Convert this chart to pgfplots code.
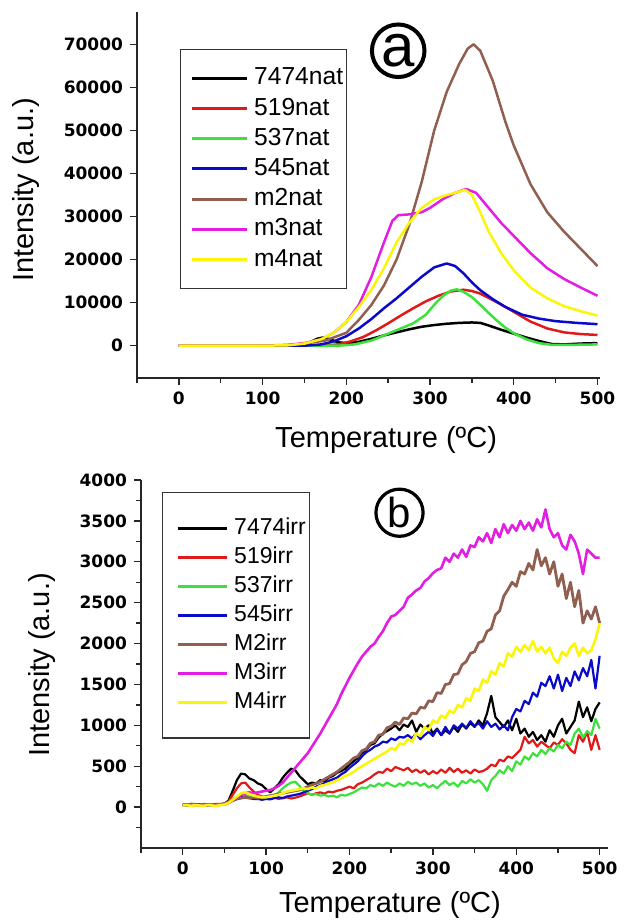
\documentclass[border=0pt]{standalone}
\usepackage{fontspec}
\setmainfont{Liberation Sans}
\newfontfamily\tickfont{DejaVu Sans}
\usepackage{pgfplots}
\pgfplotsset{compat=1.18}
\definecolor{cblack}{RGB}{0,0,0}
\definecolor{cred}{RGB}{225,25,25}
\definecolor{cgreen}{RGB}{60,225,60}
\definecolor{cblue}{RGB}{10,10,200}
\definecolor{cbrown}{RGB}{145,95,80}
\definecolor{cmag}{RGB}{225,30,225}
\definecolor{cyel}{RGB}{250,245,10}
\pgfplotsset{myaxis/.style={
  scale only axis, anchor=south west,
  axis x line*=bottom, axis y line*=left,
  axis line style={line width=0.8pt, black!85},
  tick align=outside,
  tick style={line width=0.7pt, black!85},
  major tick length=3.5pt, minor tick length=2.5pt,
  xtick={0,100,...,500}, minor xtick={-50,50,150,250,350,450},
  ticklabel style={font=\tickfont\bfseries\fontsize{8.5}{10}\selectfont},
  /pgf/number format/assume math mode=true,
  /pgf/number format/1000 sep={},
  scaled ticks=false,
  label style={font=\fontsize{14.5}{16}\selectfont},
  clip=false,
  legend cell align=left,
  every axis plot/.append style={line join=round},
}}
\begin{document}
\begin{tikzpicture}
\path[use as bounding box] (0,0) rectangle (313.5pt,461pt);
% ---------- panel (a) ----------
\begin{axis}[myaxis, at={(68.5pt,272pt)}, width=231.5pt, height=183pt,
  xmin=-50, xmax=503, ymin=-7500, ymax=77500,
  ytick={0,10000,...,70000},
  xlabel={Temperature (ºC)}, ylabel={Intensity (a.u.)},
  xlabel style={at={(axis description cs:0.538,-0.169)}, anchor=center},
  ylabel style={at={(axis description cs:-0.2397,0.514)}, anchor=center},
  legend image code/.code={\path[draw=none] (0pt,0pt) -- (35pt,0pt); \draw[#1, line width=1.5pt] (4.5pt,0pt) -- (32pt,0pt);},
  legend style={at={(0.0929,0.9)}, anchor=north west, draw=black!80, line width=0.6pt,
    font=\fontsize{12.3}{14}\selectfont, inner xsep=1pt, inner ysep=8pt, row sep=2pt,
    nodes={inner sep=0.8pt, text height=9pt, text depth=2.5pt}},
  every axis plot/.append style={line width=1.25pt}]
\addplot[cblack] coordinates {(0,0)(140,0)(155,600)(165,1600)(172,1900)(180,1500)(190,800)(200,600)(215,900)(230,1600)(245,2400)(260,3100)(275,3800)(290,4400)(305,4800)(320,5100)(335,5300)(350,5400)(360,5300)(370,4700)(385,3700)(400,2800)(415,1900)(430,1100)(445,400)(460,300)(480,500)(500,600)};
\addplot[cred] coordinates {(0,0)(170,0)(190,300)(205,1000)(220,2000)(235,3500)(250,5200)(265,7000)(280,8700)(295,10300)(310,11600)(325,12600)(340,13000)(350,12700)(360,12100)(375,10600)(390,9000)(405,7300)(420,5600)(440,4000)(460,3100)(480,2700)(500,2500)};
\addplot[cgreen] coordinates {(0,0)(190,0)(210,300)(230,1200)(250,2800)(265,4000)(280,5200)(295,7200)(305,9500)(315,11500)(325,12800)(332,13100)(340,12500)(350,11300)(360,9500)(370,7600)(380,5800)(390,4200)(400,2900)(415,1500)(430,600)(445,200)(470,200)(500,300)};
\addplot[cblue] coordinates {(0,0)(150,0)(170,300)(185,1000)(200,2200)(215,4000)(230,6200)(245,8700)(260,11000)(275,13500)(290,16000)(305,18200)(320,19100)(330,18500)(340,16800)(350,14700)(360,12900)(375,10800)(390,9000)(410,7200)(430,6300)(450,5700)(475,5300)(500,5000)};
\addplot[cbrown] coordinates {(0,0)(100,0)(130,100)(150,500)(175,1200)(200,3000)(215,6000)(230,9500)(245,14000)(260,20000)(275,28000)(290,38000)(305,50000)(320,59000)(335,65500)(345,69000)(352,70000)(360,68500)(375,61500)(390,52000)(400,46500)(420,37500)(440,31000)(460,26500)(480,22500)(500,18500)};
\addplot[cmag] coordinates {(0,0)(100,0)(130,200)(150,600)(170,1500)(185,3000)(200,5500)(215,9500)(230,16000)(245,24000)(255,29000)(262,30300)(275,30500)(290,31000)(300,32000)(315,34000)(330,35500)(343,36400)(355,35500)(370,32000)(385,28500)(400,25500)(420,21500)(440,18000)(460,15500)(480,13500)(500,11600)};
\addplot[cyel] coordinates {(0,0)(100,0)(130,100)(150,500)(170,1500)(185,3000)(200,5500)(215,9000)(230,13000)(245,18000)(260,24000)(275,28500)(290,32000)(305,34000)(320,35000)(335,35800)(342,36200)(350,35000)(360,31000)(370,26500)(385,21500)(400,17500)(420,13500)(440,11000)(460,9200)(480,8000)(500,7000)};
\legend{7474nat,519nat,537nat,545nat,m2nat,m3nat,m4nat}
\node[draw, circle, line width=2pt, inner sep=1pt, minimum size=25pt, font=\fontsize{30}{30}\selectfont] at (axis cs:262,68500) {a};
\end{axis}
% ---------- panel (b) ----------
\begin{axis}[myaxis, at={(70.5pt,37pt)}, width=233.5pt, height=184pt,
  xmin=-50, xmax=510, ymin=-500, ymax=4000,
  ytick={0,500,...,4000}, minor ytick={-250,250,750,1250,1750,2250,2750,3250,3750},
  xlabel={Temperature (ºC)}, ylabel={Intensity (a.u.)},
  xlabel style={at={(axis description cs:0.533,-0.155)}, anchor=center},
  ylabel style={at={(axis description cs:-0.212,0.497)}, anchor=center},
  legend image code/.code={\path[draw=none] (0pt,0pt) -- (34pt,0pt); \draw[#1, line width=1.5pt] (6.5pt,0pt) -- (31pt,0pt);},
  legend style={at={(0.045,0.967)}, anchor=north west, draw=black!80, line width=0.6pt,
    font=\fontsize{11.5}{13}\selectfont, inner xsep=1pt, inner ysep=11.5pt, row sep=1.9pt,
    nodes={inner sep=0.8pt, text height=8.5pt, text depth=2.5pt}},
  every axis plot/.append style={line width=1.1pt}]
\addplot[cblack] coordinates {(0,30)(5,20)(10,40)(15,25)(20,35)(25,20)(30,30)(35,25)(40,35)(45,30)(50,40)(55,80)(60,200)(65,330)(70,410)(75,400)(80,350)(85,330)(90,290)(95,270)(100,220)(105,180)(110,230)(115,280)(120,360)(125,420)(130,470)(135,450)(140,380)(145,330)(150,280)(155,300)(160,290)(165,330)(170,310)(175,360)(180,380)(185,420)(190,440)(195,470)(200,520)(205,560)(210,600)(215,660)(220,700)(225,760)(230,780)(235,850)(240,900)(245,930)(250,960)(255,1000)(260,940)(265,1010)(270,980)(275,1060)(280,920)(285,1010)(290,960)(295,1000)(300,900)(305,960)(310,880)(315,940)(320,900)(325,980)(330,920)(335,1010)(340,960)(345,1030)(350,980)(355,1060)(360,1000)(365,1150)(370,1360)(375,1100)(380,1040)(385,980)(390,1060)(395,940)(400,1080)(405,900)(410,960)(415,860)(420,920)(425,820)(430,880)(435,800)(440,940)(445,860)(450,1000)(455,1080)(460,900)(465,980)(470,1060)(475,1290)(480,1100)(485,1220)(490,1050)(495,1200)(500,1280)};
\addplot[cred] coordinates {(0,20)(5,30)(10,25)(15,40)(20,30)(25,35)(30,25)(35,30)(40,40)(45,35)(50,45)(55,70)(60,150)(65,230)(70,290)(75,300)(80,240)(85,190)(90,150)(95,130)(100,120)(105,110)(110,115)(115,100)(120,110)(125,120)(130,105)(135,115)(140,130)(145,150)(150,170)(155,150)(160,170)(165,180)(170,165)(175,190)(180,180)(185,200)(190,210)(195,230)(200,250)(205,230)(210,280)(215,300)(220,330)(225,360)(230,400)(235,430)(240,420)(245,470)(250,440)(255,490)(260,470)(265,450)(270,480)(275,430)(280,460)(285,420)(290,450)(295,400)(300,440)(305,410)(310,460)(315,420)(320,480)(325,430)(330,470)(335,420)(340,450)(345,410)(350,460)(355,430)(360,440)(365,470)(370,520)(375,500)(380,580)(385,560)(390,620)(395,600)(400,650)(405,700)(410,860)(415,780)(420,820)(425,740)(430,800)(435,760)(440,720)(445,790)(450,760)(455,830)(460,780)(465,700)(470,660)(475,880)(480,800)(485,920)(490,700)(495,880)(500,700)};
\addplot[cgreen] coordinates {(0,25)(5,20)(10,30)(15,25)(20,20)(25,30)(30,25)(35,20)(40,30)(45,25)(50,35)(55,60)(60,100)(65,130)(70,150)(75,160)(80,140)(85,120)(90,110)(95,100)(100,100)(105,120)(110,140)(115,180)(120,230)(125,270)(130,300)(135,310)(140,260)(145,200)(150,170)(155,150)(160,160)(165,140)(170,150)(175,130)(180,140)(185,120)(190,150)(195,140)(200,160)(205,180)(210,210)(215,240)(220,230)(225,270)(230,250)(235,290)(240,260)(245,300)(250,270)(255,250)(260,290)(265,260)(270,310)(275,280)(280,300)(285,260)(290,290)(295,240)(300,270)(305,230)(310,280)(315,320)(320,270)(325,300)(330,250)(335,320)(340,290)(345,340)(350,300)(355,330)(360,280)(365,200)(370,330)(375,380)(380,450)(385,410)(390,500)(395,440)(400,560)(405,520)(410,620)(415,580)(420,660)(425,620)(430,700)(435,650)(440,720)(445,680)(450,760)(455,720)(460,800)(465,760)(470,900)(475,960)(480,850)(485,930)(490,880)(495,1080)(500,960)};
\addplot[cblue] coordinates {(0,25)(5,30)(10,20)(15,35)(20,25)(25,30)(30,20)(35,25)(40,35)(45,30)(50,30)(55,50)(60,80)(65,100)(70,120)(75,130)(80,110)(85,100)(90,100)(95,90)(100,100)(105,95)(110,110)(115,120)(120,110)(125,130)(130,140)(135,150)(140,160)(145,180)(150,200)(155,220)(160,250)(165,270)(170,290)(175,320)(180,340)(185,360)(190,400)(195,430)(200,480)(205,520)(210,560)(215,620)(220,670)(225,700)(230,740)(235,760)(240,800)(245,790)(250,840)(255,820)(260,860)(265,850)(270,880)(275,840)(280,900)(285,830)(290,880)(295,920)(300,870)(305,950)(310,880)(315,980)(320,900)(325,1000)(330,960)(335,1020)(340,970)(345,1050)(350,990)(355,1030)(360,960)(365,1050)(370,980)(375,1020)(380,950)(385,1000)(390,940)(395,1100)(400,1200)(405,1170)(410,1300)(415,1260)(420,1400)(425,1350)(430,1520)(435,1480)(440,1600)(445,1450)(450,1620)(455,1420)(460,1580)(465,1480)(470,1660)(475,1550)(480,1700)(485,1600)(490,1800)(495,1450)(500,1850)};
\addplot[cbrown, line width=1.4pt] coordinates {(0,30)(5,25)(10,35)(15,30)(20,25)(25,35)(30,30)(35,25)(40,30)(45,35)(50,40)(55,60)(60,80)(65,100)(70,110)(75,120)(80,110)(85,120)(90,110)(95,120)(100,130)(105,140)(110,150)(115,160)(120,170)(125,180)(130,190)(135,200)(140,210)(145,230)(150,250)(155,270)(160,290)(165,310)(170,340)(175,370)(180,400)(185,430)(190,470)(195,510)(200,550)(205,600)(210,620)(215,690)(220,710)(225,780)(230,800)(235,880)(240,890)(245,970)(250,990)(255,1040)(260,1010)(265,1090)(270,1080)(275,1150)(280,1140)(285,1220)(290,1210)(295,1300)(300,1290)(305,1400)(310,1390)(315,1500)(320,1510)(325,1620)(330,1630)(335,1740)(340,1780)(345,1880)(350,1900)(355,2010)(360,2030)(365,2150)(370,2180)(375,2350)(380,2400)(385,2580)(390,2660)(395,2750)(400,2700)(405,2880)(410,2850)(415,2980)(420,2900)(425,3150)(430,2950)(435,3050)(440,2850)(445,3000)(450,2700)(455,2850)(460,2550)(465,2750)(470,2450)(475,2650)(480,2250)(485,2400)(490,2300)(495,2450)(500,2250)};
\addplot[cmag, line width=1.3pt] coordinates {(0,25)(5,30)(10,20)(15,30)(20,25)(25,20)(30,30)(35,25)(40,20)(45,30)(50,30)(55,50)(60,90)(65,120)(70,150)(75,170)(80,180)(85,170)(90,180)(95,190)(100,200)(105,210)(110,230)(115,260)(120,300)(125,360)(130,420)(135,480)(140,540)(145,600)(150,660)(155,740)(160,820)(165,900)(170,990)(175,1080)(180,1170)(185,1260)(190,1380)(195,1480)(200,1580)(205,1670)(210,1760)(215,1840)(220,1900)(225,1960)(230,2000)(235,2080)(240,2150)(245,2250)(250,2330)(255,2350)(260,2400)(265,2450)(270,2560)(275,2600)(280,2650)(285,2680)(290,2760)(295,2800)(300,2860)(305,2900)(310,2920)(315,3050)(320,3000)(325,3100)(330,3050)(335,3150)(340,3060)(345,3200)(350,3180)(355,3300)(360,3250)(365,3350)(370,3230)(375,3400)(380,3300)(385,3460)(390,3350)(395,3450)(400,3380)(405,3500)(410,3400)(415,3480)(420,3380)(425,3520)(430,3420)(435,3640)(440,3400)(445,3300)(450,3350)(455,3200)(460,3150)(465,3330)(470,3250)(475,3100)(480,2850)(485,3150)(490,3100)(495,3050)(500,3050)};
\addplot[cyel, line width=1.3pt] coordinates {(0,20)(5,25)(10,15)(15,25)(20,20)(25,15)(30,25)(35,20)(40,15)(45,25)(50,30)(55,50)(60,90)(65,130)(70,170)(75,180)(80,160)(85,140)(90,130)(95,120)(100,120)(105,130)(110,140)(115,150)(120,170)(125,190)(130,200)(135,210)(140,220)(145,230)(150,220)(155,240)(160,230)(165,260)(170,270)(175,290)(180,300)(185,330)(190,350)(195,380)(200,400)(205,430)(210,470)(215,500)(220,530)(225,560)(230,590)(235,620)(240,650)(245,680)(250,720)(255,700)(260,780)(265,760)(270,830)(275,800)(280,900)(285,870)(290,980)(295,940)(300,1060)(305,1030)(310,1120)(315,1090)(320,1180)(325,1150)(330,1250)(335,1220)(340,1330)(345,1300)(350,1450)(355,1420)(360,1560)(365,1520)(370,1660)(375,1620)(380,1760)(385,1720)(390,1880)(395,1840)(400,1960)(405,1900)(410,1980)(415,1920)(420,2030)(425,1900)(430,1960)(435,1880)(440,1950)(445,1820)(450,1760)(455,1900)(460,1850)(465,1950)(470,2000)(475,1850)(480,1950)(485,1880)(490,1920)(495,2050)(500,2250)};
\legend{7474irr,519irr,537irr,545irr,M2irr,M3irr,M4irr}
\node[draw, circle, line width=1.6pt, inner sep=1.5pt, minimum size=23pt, font=\fontsize{21}{21}\selectfont] at (axis cs:260,3600) {b};
\end{axis}
\end{tikzpicture}
\end{document}
